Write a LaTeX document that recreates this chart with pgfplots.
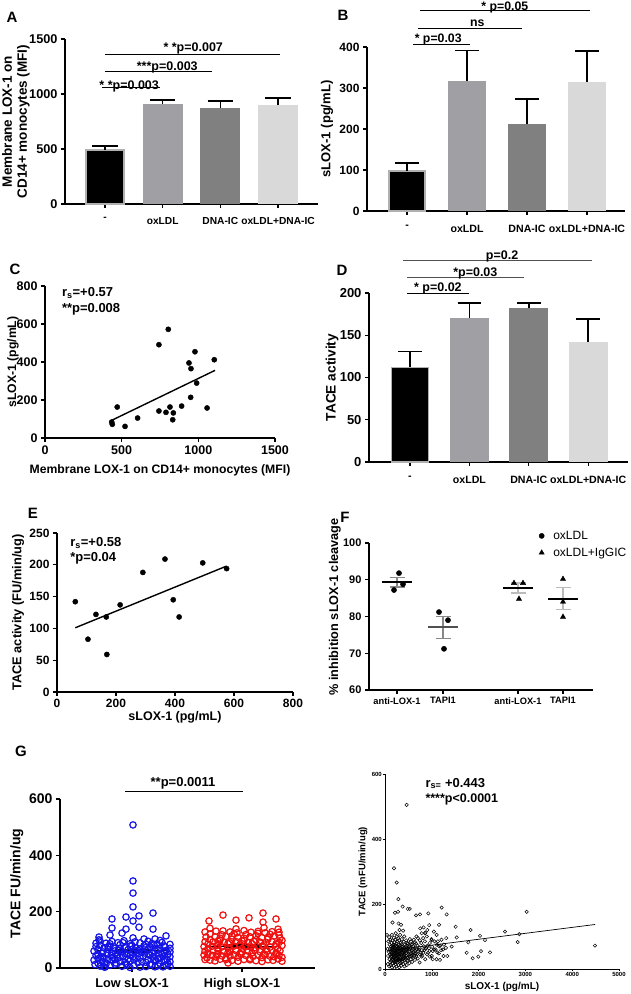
\documentclass[border=0pt]{standalone}
\usepackage{fontspec}
\setmainfont{Liberation Sans}
\usepackage{pgfplots}
\pgfplotsset{compat=1.18}
\newcommand\fs[1]{\fontsize{#1}{#1}\selectfont\bfseries}
\definecolor{gA}{HTML}{A0A0A4}
\definecolor{gB}{HTML}{808080}
\definecolor{gC}{HTML}{D9D9D9}
\definecolor{gO}{HTML}{B0B0B0}
\definecolor{eG}{HTML}{888888}
\definecolor{eL}{HTML}{BBBBBB}
\definecolor{mG}{HTML}{505050}
\definecolor{gblue}{HTML}{1414E6}
\definecolor{gred}{HTML}{F01010}
\pgfplotsset{prism/.style={
  scale only axis, clip=false,
  axis x line*=bottom, axis y line*=left,
  axis line style={line width=1.6pt,-},
  tick align=outside, major tick length=4pt,
  major tick style={line width=1.3pt,black},
  /pgf/number format/assume math mode=true,
  /pgf/number format/1000 sep={},
  scaled ticks=false,
}}
\begin{document}
\begin{tikzpicture}[x=1pt,y=1pt]
\useasboundingbox (0,0) rectangle (630,994);
% ---------------- panel labels
\node[font=\fs{15}] at (12,977) {A};
\node[font=\fs{15}] at (343,979) {B};
\node[font=\fs{15}] at (15,725) {C};
\node[font=\fs{15}] at (342,724) {D};
\node[font=\fs{15}] at (33,481) {E};
\node[font=\fs{15}] at (345,477) {F};
\node[font=\fs{15}] at (21,243) {G};
% ---------------- A
\begin{axis}[prism, at={(65pt,790pt)}, anchor=south west, width=253pt, height=165pt,
  xmin=-0.693, xmax=3.693, ymin=0, ymax=1500,
  ytick={0,500,1000,1500}, xtick={0,1,2,3}, xticklabels={-,oxLDL,DNA-IC,oxLDL+DNA-IC},
  yticklabel style={font=\fs{12.7}}, xticklabel style={font=\fs{10.2}, yshift=-6pt},
  ylabel={Membrane LOX-1 on\\CD14+ monocytes (MFI)},
  ylabel style={at={(axis description cs:-0.194,0.5)}, anchor=center, align=center, font=\fontsize{13.5}{15}\selectfont\bfseries}]
\addplot[ybar, bar width=0.66, bar shift=0pt, fill=black, draw=gO, line width=1.5pt] coordinates {(0,490)};
\addplot[ybar, bar width=0.69, bar shift=0pt, fill=gA, draw=none] coordinates {(1,905)};
\addplot[ybar, bar width=0.69, bar shift=0pt, fill=gB, draw=none] coordinates {(2,875)};
\addplot[ybar, bar width=0.69, bar shift=0pt, fill=gC, draw=none] coordinates {(3,900)};
\addplot[black, line width=1.5pt, unbounded coords=jump] coordinates {(0,490)(0,525)(0,nan)(-0.22,525)(0.22,525)(0,nan)(1,905)(1,945)(1,nan)(0.78,945)(1.22,945)(1,nan)(2,875)(2,935)(2,nan)(1.78,935)(2.22,935)(2,nan)(3,900)(3,965)(3,nan)(2.78,965)(3.22,965)};
\draw[line width=1pt] (axis cs:-0.05,1055) -- (axis cs:0.95,1055);
\node[font=\fs{12.5}, anchor=base] at (axis cs:0.42,1045) {* *p=0.003};
\draw[line width=1pt] (axis cs:0,1200) -- (axis cs:1.85,1200);
\node[font=\fs{12.5}, anchor=base] at (axis cs:1.08,1212) {***p=0.003};
\draw[line width=1pt] (axis cs:0,1355) -- (axis cs:3.03,1355);
\node[font=\fs{12.5}, anchor=base] at (axis cs:1.53,1382) {* *p=0.007};
\end{axis}
% ---------------- B
\begin{axis}[prism, at={(367pt,783pt)}, anchor=south west, width=258pt, height=164pt,
  xmin=-0.667, xmax=3.633, ymin=0, ymax=400,
  ytick={0,100,200,300,400}, xtick={0,1,2,3}, xticklabels={-,oxLDL,DNA-IC,oxLDL+DNA-IC},
  yticklabel style={font=\fs{12}}, xticklabel style={font=\fs{10.6}, yshift=-7pt},
  ylabel={sLOX-1 (pg/mL)},
  ylabel style={at={(axis description cs:-0.155,0.5)}, anchor=center, font=\fs{13}}]
\addplot[ybar, bar width=0.6, bar shift=0pt, fill=black, draw=gO, line width=1.5pt] coordinates {(0,97)};
\addplot[ybar, bar width=0.63, bar shift=0pt, fill=gA, draw=none] coordinates {(1,317)};
\addplot[ybar, bar width=0.63, bar shift=0pt, fill=gB, draw=none] coordinates {(2,212)};
\addplot[ybar, bar width=0.63, bar shift=0pt, fill=gC, draw=none] coordinates {(3,315)};
\addplot[black, line width=1.5pt, unbounded coords=jump] coordinates {(0,97)(0,117)(0,nan)(-0.2,117)(0.2,117)(0,nan)(1,317)(1,392)(1,nan)(0.8,392)(1.2,392)(1,nan)(2,212)(2,273)(2,nan)(1.8,273)(2.2,273)(2,nan)(3,315)(3,390)(3,nan)(2.8,390)(3.2,390)};
\draw[line width=1pt] (axis cs:0.1,407) -- (axis cs:1.05,407);
\node[font=\fs{12.3}, anchor=base] at (axis cs:0.52,410) {* p=0.03};
\draw[line width=1pt] (axis cs:0.18,446) -- (axis cs:1.92,446);
\node[font=\fs{12.3}, anchor=base] at (axis cs:1.17,450) {ns};
\draw[line width=1pt] (axis cs:0.22,488) -- (axis cs:3.05,488);
\node[font=\fs{12.3}, anchor=base] at (axis cs:1.63,490) {* p=0.05};
\end{axis}
% ---------------- C
\begin{axis}[prism, at={(45pt,556pt)}, anchor=south west, width=230pt, height=152pt,
  xmin=0, xmax=1500, ymin=0, ymax=800,
  xtick={0,500,1000,1500}, ytick={0,200,400,600,800},
  ticklabel style={font=\fs{12.5}},
  xlabel={Membrane LOX-1 on CD14+ monocytes (MFI)},
  xlabel style={at={(axis description cs:0.5,-0.21)}, anchor=center, font=\fs{12.2}},
  ylabel={sLOX-1 (pg/mL)},
  ylabel style={at={(axis description cs:-0.139,0.5)}, anchor=center, font=\fs{12.2}}]
\addplot[only marks, mark=*, mark size=2.6pt, black] coordinates {
(435,84)(439,72)(471,163)(522,61)(604,105)(743,491)(743,142)(789,135)(804,572)(815,163)
(837,132)(833,96)(891,168)(939,395)(952,365)(950,214)(978,454)(989,289)(1057,158)(1104,412)};
\addplot[black, line width=1.4pt] coordinates {(435,93)(1109,356)};
\node[font=\fs{13}, anchor=base west] at (axis cs:88,744) {r\textsubscript{s}=+0.57};
\node[font=\fs{13}, anchor=base west] at (axis cs:88,658) {**p=0.008};
\end{axis}
% ---------------- D
\begin{axis}[prism, at={(369pt,532pt)}, anchor=south west, width=259pt, height=169pt,
  xmin=-0.69, xmax=3.67, ymin=0, ymax=200,
  ytick={0,50,100,150,200}, xtick={0,1,2,3}, xticklabels={-,oxLDL,DNA-IC,oxLDL+DNA-IC},
  yticklabel style={font=\fs{13}}, xticklabel style={font=\fs{10.6}, yshift=-7pt},
  ylabel={TACE activity},
  ylabel style={at={(axis description cs:-0.143,0.5)}, anchor=center, font=\fs{13.7}}]
\addplot[ybar, bar width=0.62, bar shift=0pt, fill=black, draw=gO, line width=1.5pt] coordinates {(0,112)};
\addplot[ybar, bar width=0.66, bar shift=0pt, fill=gA, draw=none] coordinates {(1,170)};
\addplot[ybar, bar width=0.66, bar shift=0pt, fill=gB, draw=none] coordinates {(2,182)};
\addplot[ybar, bar width=0.66, bar shift=0pt, fill=gC, draw=none] coordinates {(3,142)};
\addplot[black, line width=1.5pt, unbounded coords=jump] coordinates {(0,112)(0,131)(0,nan)(-0.2,131)(0.2,131)(0,nan)(1,170)(1,188)(1,nan)(0.8,188)(1.2,188)(1,nan)(2,182)(2,188)(2,nan)(1.8,188)(2.2,188)(2,nan)(3,142)(3,169)(3,nan)(2.8,169)(3.2,169)};
\draw[line width=1pt] (axis cs:-0.05,199) -- (axis cs:1.0,199);
\node[font=\fs{12.5}, anchor=base] at (axis cs:0.47,201.5) {* p=0.02};
\draw[line width=1pt, mG] (axis cs:-0.05,218) -- (axis cs:1.92,218);
\node[font=\fs{12.5}, anchor=base] at (axis cs:1.1,220) {*p=0.03};
\draw[line width=1pt, mG] (axis cs:-0.12,238) -- (axis cs:3.07,238);
\node[font=\fs{12.5}, anchor=base] at (axis cs:1.55,240) {p=0.2};
\end{axis}
% ---------------- E
\begin{axis}[prism, at={(57pt,302pt)}, anchor=south west, width=236pt, height=159pt,
  xmin=0, xmax=800, ymin=0, ymax=250,
  xtick={0,200,400,600,800}, ytick={0,50,100,150,200,250},
  ticklabel style={font=\fs{12}},
  xlabel={sLOX-1 (pg/mL)},
  xlabel style={at={(axis description cs:0.5,-0.157)}, anchor=center, font=\fs{12.5}},
  ylabel={TACE activity (FU/min/ug)},
  ylabel style={at={(axis description cs:-0.165,0.5)}, anchor=center, font=\fs{12.8}}]
\addplot[only marks, mark=*, mark size=2.6pt, black] coordinates {
(62,142)(105,83)(132,122)(167,118)(169,59)(214,137)(291,188)(366,209)(394,145)(414,118)(494,203)(575,194)};
\addplot[black, line width=1.4pt] coordinates {(62,101)(575,198)};
\node[font=\fs{13}, anchor=base west] at (axis cs:33,228) {r\textsubscript{s}=+0.58};
\node[font=\fs{13}, anchor=base west] at (axis cs:33,205) {*p=0.04};
\end{axis}
% ---------------- F
\begin{axis}[prism, at={(369pt,304pt)}, anchor=south west, width=224pt, height=147pt,
  xmin=0, xmax=224, ymin=60, ymax=100,
  xtick={28,74,149,194}, xticklabels={anti-LOX-1,TAPI1,anti-LOX-1,TAPI1},
  ytick={60,70,80,90,100},
  yticklabel style={font=\fs{11}}, xticklabel style={font=\fs{9.3}},
  ylabel={\% inhibition sLOX-1 cleavage},
  ylabel style={at={(axis description cs:-0.152,0.565)}, anchor=center, font=\fs{12.7}},
  legend style={at={(axis description cs:0.745,1.11)}, anchor=north west, draw=none, fill=none,
    font=\fontsize{12}{12}\selectfont, row sep=3pt}, legend cell align=left]
\addplot[only marks, mark=*, mark size=2.6pt, black] coordinates {(30,91.8)(25,87.2)(34,88.8)(70,81.2)(79,79.0)(75,71.2)};
\addlegendentry{\hspace{7pt}oxLDL}
\addplot[only marks, mark=triangle*, mark size=3pt, black] coordinates {(145,89.1)(154,89.1)(150,84.8)(194,90.2)(194,84.0)(194,79.9)};
\addlegendentry{\hspace{7pt}oxLDL+IgGIC}
\addplot[forget plot, eG, line width=1.2pt, unbounded coords=jump] coordinates {(28,88.0)(28,90.7)(28,nan)(20.5,88.0)(35.5,88.0)(28,nan)(20.5,90.7)(35.5,90.7)(28,nan)(74,74.1)(74,80.1)(74,nan)(66.5,74.1)(81.5,74.1)(74,nan)(66.5,80.1)(81.5,80.1)};
\addplot[forget plot, eL, line width=1.2pt, unbounded coords=jump] coordinates {(149,86.4)(149,89.1)(149,nan)(141.5,86.4)(156.5,86.4)(149,nan)(141.5,89.1)(156.5,89.1)(149,nan)(194,81.8)(194,87.8)(194,nan)(186.5,81.8)(201.5,81.8)(194,nan)(186.5,87.8)(201.5,87.8)};
\addplot[forget plot, black, line width=1.4pt, unbounded coords=jump] coordinates {(13,89.4)(43,89.4)(13,nan)(134,87.8)(164,87.8)(134,nan)(179,84.8)(209,84.8)};
\addplot[forget plot, mG, line width=1.4pt] coordinates {(59,77.1)(89,77.1)};
\end{axis}
% ---------------- G left
\begin{axis}[prism, at={(60pt,26pt)}, anchor=south west, width=255pt, height=169pt,
  xmin=0, xmax=255, ymin=0, ymax=600,
  xtick={72,182}, xticklabels={Low sLOX-1,High sLOX-1}, ytick={0,200,400,600},
  yticklabel style={font=\fs{14}}, xticklabel style={font=\fs{12.7}, yshift=-3pt},
  ylabel={TACE FU/min/ug},
  ylabel style={at={(axis description cs:-0.169,0.5)}, anchor=center, font=\fs{14}}]
\addplot[only marks, mark=o, mark size=3.2pt, gblue, mark options={line width=1.2pt}] coordinates {
(45,3)(70,2)(95,4)
(40,7)(50,10)(62,6)(74,9)(86,5)(98,8)(106,11)
(38,17)(46,14)(56,18)(66,15)(78,19)(90,13)(100,17)(108,15)
(42,24)(52,27)(60,22)(70,25)(82,23)(94,28)(104,24)
(38,33)(48,30)(58,35)(68,32)(76,34)(88,30)(98,33)(107,31)
(41,41)(53,38)(63,43)(73,40)(83,42)(93,39)(103,41)
(38,48)(47,51)(57,46)(67,49)(79,52)(89,47)(99,50)(108,48)
(43,57)(52,54)(62,58)(72,55)(82,57)(92,53)(104,56)
(38,64)(48,66)(58,62)(68,65)(78,63)(88,67)(98,64)(106,62)
(44,72)(54,70)(66,74)(76,71)(86,73)(96,69)(105,75)
(40,81)(50,78)(60,83)(72,80)(84,79)(94,82)(104,78)
(46,88)(58,90)(70,86)(80,89)(92,87)(102,91)
(40,96)(52,94)(64,97)(88,95)(100,98)
(35,12)(44,4)(55,13)(67,11)(80,3)(92,12)(103,4)(110,6)
(34,28)(45,20)(55,30)(65,21)(74,29)(86,20)(96,26)(110,22)
(36,44)(44,36)(51,44)(60,38)(70,46)(80,37)(90,44)(100,36)(110,40)
(34,60)(42,52)(55,61)(65,52)(75,60)(85,53)(95,60)(102,49)(110,57)
(36,76)(48,75)(60,68)(70,78)(80,68)(90,76)(100,71)(110,70)
(36,88)(50,86)(63,90)(75,93)(86,84)(97,86)(110,84)
(73,508)(73,309)(73,266)(73,217)(52,174)(66,181)(79,185)(93,195)(73,167)(52,142)(66,138)(79,145)(93,138)(62,124)(39,110)(73,107)(84,103)(95,103)(106,114)(50,117)(39,100)};
\addplot[only marks, mark=o, mark size=3.2pt, gred, mark options={line width=1.2pt}] coordinates {
(168,18)
(150,28)(160,31)(172,27)(184,30)(196,26)(208,29)(218,32)
(147,36)(156,39)(166,35)(178,38)(190,34)(202,37)(214,40)
(152,45)(162,43)(174,47)(186,44)(198,46)(210,42)(219,45)
(148,53)(158,51)(168,55)(180,52)(192,54)(204,50)(216,53)
(153,61)(164,59)(176,62)(188,60)(200,58)(212,63)
(148,68)(158,70)(170,67)(182,69)(194,71)(206,66)(218,69)
(152,77)(162,75)(174,78)(186,76)(198,79)(210,74)
(148,85)(158,83)(168,87)(180,84)(192,86)(204,82)(216,85)
(153,93)(164,91)(176,94)(188,90)(200,92)(212,95)(219,91)
(150,101)(160,99)(172,102)(184,98)(196,100)(208,103)
(155,110)(166,112)(178,109)(190,111)(202,108)(214,113)
(150,121)(162,118)(174,122)(186,119)(198,123)(210,120)(219,117)
(156,131)(170,128)(184,133)(198,130)(212,129)
(150,141)(176,139)(204,143)(218,138)
(145,30)(155,25)(166,30)(178,24)(190,29)(202,23)(213,27)(222,24)
(144,46)(157,47)(170,42)(181,48)(193,41)(205,46)(217,48)(222,38)
(145,60)(158,62)(170,58)(182,57)(195,63)(207,59)(220,61)
(144,76)(157,80)(168,72)(180,78)(191,74)(203,77)(216,76)(222,80)
(145,93)(158,95)(170,89)(182,96)(194,94)(206,91)(222,98)
(146,110)(160,106)(172,114)(184,106)(196,115)(208,109)(220,106)
(145,128)(163,132)(177,125)(191,127)(205,125)(219,127)
(163,188)(149,167)(176,170)(189,178)(203,195)(203,163)(216,174)};
\addplot[black, line width=1pt] coordinates {(37,61)(108,61)};
\addplot[black, line width=3.5pt] coordinates {(55,61)(90,61)};
\addplot[black, line width=1pt] coordinates {(147,78)(220,78)};
\addplot[black, line width=3.5pt] coordinates {(165,78)(200,78)};
\draw[line width=1pt] (axis cs:65,628) -- (axis cs:183,628);
\node[font=\fs{13}, anchor=base] at (axis cs:123,644) {**p=0.0011};
\end{axis}
% ---------------- G right
\begin{axis}[prism, at={(385pt,25pt)}, anchor=south west, width=234pt, height=195pt,
  xmin=0, xmax=5000, ymin=0, ymax=600,
  axis line style={line width=0.8pt,-}, major tick length=2pt, major tick style={line width=0.6pt,black},
  xtick={0,1000,2000,3000,4000,5000}, ytick={0,200,400,600},
  ticklabel style={font=\fs{6}, inner sep=1pt},
  xlabel={sLOX-1 (pg/mL)},
  xlabel style={at={(axis description cs:0.5,-0.092)}, anchor=center, font=\fs{10}},
  ylabel={TACE (mFU/min/ug)},
  ylabel style={at={(axis description cs:-0.094,0.5)}, anchor=center, font=\fs{9.5}}]
\addplot[only marks, mark=o, mark size=1.7pt, black, mark options={line width=0.5pt}] coordinates {
(463,505)(192,310)(250,266)(285,215)(214,173)(278,176)(378,192)(485,185)(528,185)(662,165)(748,168)(926,171)(1211,189)(1318,168)(1154,136)(1510,130)(1532,97)(1830,120)(1780,82)(1745,50)(1873,33)(1994,38)(2030,102)(2051,55)(2137,89)(2244,51)(2564,115)(2835,83)(2870,107)(3027,176)(4487,72)(43,105)(1425,69)(1332,40)(1175,28)(1118,51)(1019,30)(940,64)(997,89)(1104,105)(855,110)
(60,15)(66,40)(55,62)(70,85)
(90,8)(95,30)(84,52)(98,75)(88,98)
(120,12)(112,20)(126,38)(118,55)(130,70)(115,90)
(145,5)(150,28)(140,45)(152,63)(138,80)(146,105)(160,143)
(165,18)(172,35)(160,50)(168,60)(176,68)(158,88)
(185,10)(192,25)(180,42)(188,48)(196,58)(178,74)(186,96)
(205,3)(212,30)(200,38)(210,47)(198,55)(216,65)(204,82)
(225,15)(232,22)(220,40)(228,52)(236,70)(222,90)(230,110)
(245,8)(252,26)(240,33)(248,45)(256,60)(242,78)(250,100)
(265,20)(272,37)(260,50)(268,57)(276,66)(262,85)
(285,12)(292,28)(280,44)(288,62)(296,75)(282,95)(290,140)
(305,5)(312,25)(300,40)(308,55)(316,72)(302,88)(310,120)
(325,18)(332,34)(320,48)(328,64)(336,80)(322,105)
(345,10)(352,30)(340,46)(348,58)(356,76)(342,136)
(365,22)(372,38)(360,52)(368,60)(376,68)(362,92)
(390,15)(398,32)(384,48)(394,65)(402,84)(388,118)
(415,8)(422,28)(410,44)(418,58)(426,75)(412,100)
(440,20)(448,40)(434,55)(444,70)(452,88)
(465,12)(472,35)(460,50)(468,66)(476,80)
(490,25)(498,45)(484,62)(494,78)
(520,18)(528,38)(514,55)(524,72)(532,92)
(550,30)(558,48)(544,65)(554,84)
(580,22)(588,42)(574,58)(584,76)
(610,35)(618,52)(604,70)(614,90)
(640,28)(648,48)(634,65)(644,82)
(670,40)(678,60)(664,78)(674,100)
(700,32)(708,55)(694,72)(704,95)
(740,20)(748,45)(734,66)(744,88)(752,125)
(780,38)(788,58)(774,80)(784,110)
(820,50)(828,70)(814,95)(824,128)
(860,30)(868,62)(854,85)(864,112)
(900,45)(908,72)(894,100)(904,120)
(950,55)(958,80)(944,135)
(1000,40)(1008,68)(994,92)
(1050,60)(1058,85)(1044,115)
(1100,30)(1108,75)
(1150,48)(1158,70)
(1200,58)(1208,90)
(1250,40)(1258,75)
(1300,65)(1308,95)
(100,45)(110,62)(130,25)(135,50)(150,38)(155,72)(170,28)(175,45)(190,62)(195,35)(200,20)(215,58)(220,75)(235,30)(240,48)(255,40)(260,70)(270,28)(280,55)(295,38)(300,65)(315,45)(320,30)(335,58)(340,20)(355,42)(360,70)(375,50)(380,30)(395,56)(405,40)(420,65)(430,35)(445,48)(455,60)(470,25)(480,55)(500,35)(510,68)(530,45)(540,60)(560,40)(570,75)(590,50)(600,62)(620,40)(650,56)(680,45)(720,60)(760,50)(800,40)(840,58)(880,65)(920,50)(960,38)(1020,55)(1080,60)(1130,85)(1180,72)(1240,60)};
\addplot[black, line width=0.7pt] coordinates {(30,55.5)(4490,137)};
\node[font=\fs{13}, anchor=base west] at (axis cs:790,560) {r\textsubscript{s=} +0.443};
\node[font=\fs{12.5}, anchor=base west] at (axis cs:790,512) {****p<0.0001};
\end{axis}
\end{tikzpicture}
\end{document}
